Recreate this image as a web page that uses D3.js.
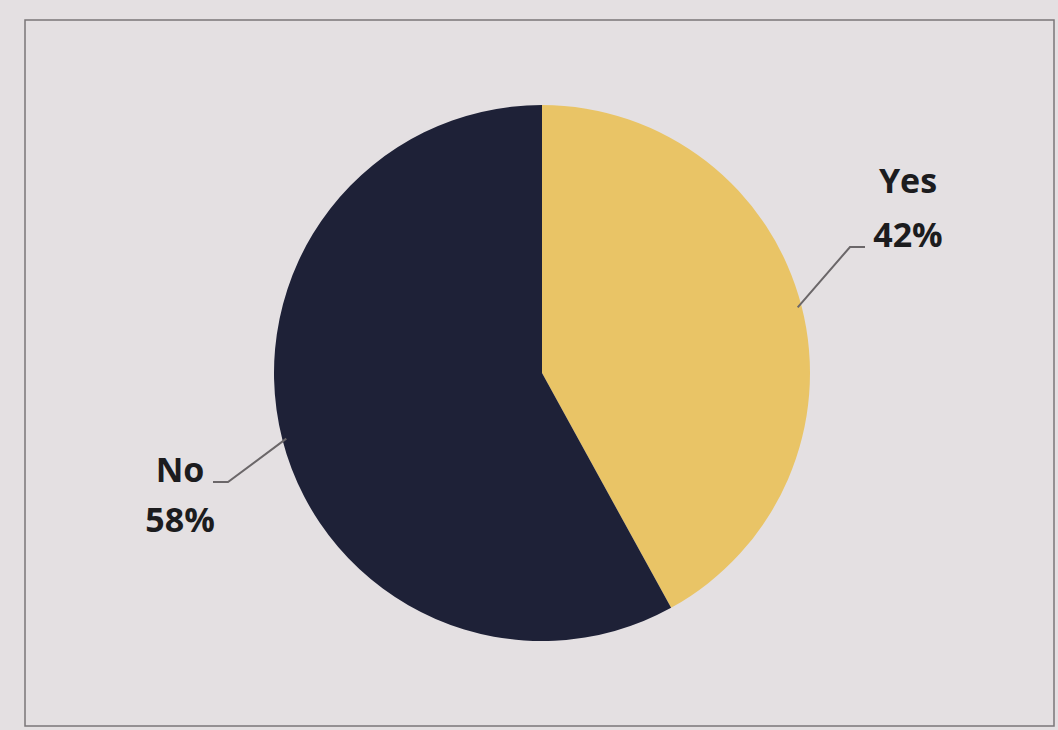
<!DOCTYPE html>
<html><head><meta charset="utf-8">
<script src="https://cdn.jsdelivr.net/npm/d3@7"></script>
<style>html,body{margin:0;padding:0;background:#e4e0e2;}svg{display:block;}</style>
</head><body>
<script>
const categories = ["Yes", "No"];
const values = [42, 58];
const labels = ["42%", "58%"];
const colors = ["#e9c466", "#1e2137"];

const W = 1058, H = 730;
const svg = d3.select("body").append("svg").attr("width", W).attr("height", H);
svg.append("rect").attr("width", W).attr("height", H).attr("fill", "#e4e0e2");
svg.append("rect").attr("x", 25).attr("y", 20).attr("width", 1029).attr("height", 706)
  .attr("fill", "none").attr("stroke", "#7a7678").attr("stroke-width", 1.5);

const cx = 542, cy = 373, r = 268;
const pie = d3.pie().sort(null).value(d => d)(values);
const arc = d3.arc().innerRadius(0).outerRadius(r);
const g = svg.append("g").attr("transform", `translate(${cx},${cy})`);
g.selectAll("path").data(pie).join("path").attr("d", arc).attr("fill", (d, i) => colors[i]);

// leader lines & labels
const pt = (a, rr) => [Math.sin(a) * rr, -Math.cos(a) * rr];
const labelCfg = [
  {elbow: [850 - cx, 247 - cy], end: [865 - cx, 247 - cy], tx: 908 - cx, ty1: 193 - cy, ty2: 247 - cy},
  {elbow: [228 - cx, 482 - cy], end: [213 - cx, 482 - cy], tx: 180 - cx, ty1: 482 - cy, ty2: 532 - cy}
];
labelCfg.forEach((c, i) => {
  const a = (pie[i].startAngle + pie[i].endAngle) / 2;
  const p0 = pt(a, r - 4);
  g.append("polyline").attr("points", [p0, c.elbow, c.end].map(p => p.join(",")).join(" "))
    .attr("fill", "none").attr("stroke", "#6b6769").attr("stroke-width", 2);
  const t = g.append("text").attr("text-anchor", "middle")
    .attr("font-family", "Open Sans, Liberation Sans, sans-serif").attr("font-weight", 700)
    .attr("font-size", 34).attr("fill", "#1c1c1e");
  t.append("tspan").attr("x", c.tx).attr("y", c.ty1).text(categories[i]);
  t.append("tspan").attr("x", c.tx).attr("y", c.ty2).text(labels[i]);
});
</script>
</body></html>
